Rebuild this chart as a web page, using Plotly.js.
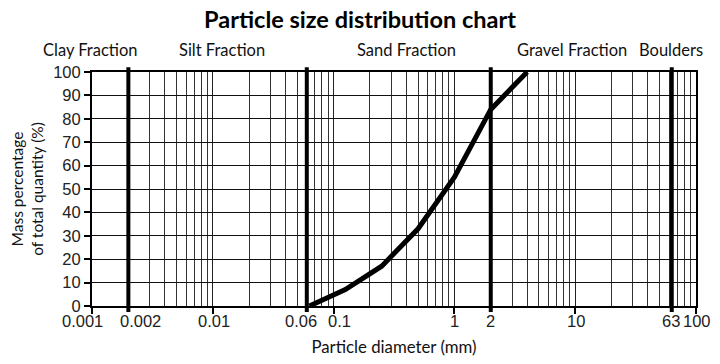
<!DOCTYPE html>
<html>
<head>
<meta charset="utf-8">
<script src="https://cdn.plot.ly/plotly-3.0.1.min.js"></script>
<style>html,body{margin:0;padding:0;background:#fff;}#chart{width:720px;height:364px;}</style>
</head>
<body>
<div id="chart"></div>
<script>
// ---- data ----
const diameterMm = [0.063, 0.125, 0.25, 0.5, 1, 2, 4];
const passingPct = [0, 7, 17, 33, 55, 84, 100];

const fractionBoundaries = [0.002, 0.06, 2, 63];
const fractionNames = ["Clay Fraction", "Silt Fraction", "Sand Fraction", "Gravel Fraction", "Boulders"];

const xTickLabelValues = [0.001, 0.002, 0.01, 0.06, 0.1, 1, 2, 10, 63, 100];
const xTickLabelText = ["0.001", "0.002", "0.01", "0.06", "0.1", "1", "2", "10", "63", "100"];

const xMajorTicks = [0.001, 0.01, 0.1, 1, 10, 100];
const xMinorGrid = [0.002,0.003,0.004,0.005,0.006,0.007,0.008,0.009,
                    0.02,0.03,0.04,0.05,0.06,0.07,0.08,0.09,
                    0.2,0.3,0.4,0.5,0.6,0.7,0.8,0.9,
                    2,3,4,5,6,7,8,9,
                    20,30,40,50,60,70,80,90];
const yTicks = [0, 10, 20, 30, 40, 50, 60, 70, 80, 90, 100];

// ---- styling / layout helpers ----
const labelShift = [-10, 12, 1, -6, 6, 0, 0, 1, -1, 1];
const fractionLabelX = [90, 222, 406, 572, 671]; // px positions
const plotL = 92, plotR = 696;
const textFont = "Lato, 'Open Sans', sans-serif";
const numFont = "'Liberation Sans', Arial, sans-serif";

const traces = [{
  x: diameterMm,
  y: passingPct,
  type: 'scatter',
  mode: 'lines',
  line: {color: '#000', width: 5},
  hoverinfo: 'x+y',
  showlegend: false
}];

const shapes = fractionBoundaries.map(v => ({
  type: 'line', xref: 'x', yref: 'paper',
  x0: v, x1: v, y0: -0.026, y1: 1.02,
  line: {color: '#000', width: 4}
}));

const annotations = [];
xTickLabelValues.forEach((v, i) => {
  annotations.push({
    xref: 'x', yref: 'paper', x: Math.log10(v), y: 0, yshift: -15,
    xshift: labelShift[i], text: xTickLabelText[i], showarrow: false,
    xanchor: 'center', yanchor: 'middle',
    font: {family: numFont, size: 16.5, color: '#222'}
  });
});
fractionNames.forEach((n, i) => {
  annotations.push({
    xref: 'paper', yref: 'paper',
    x: (fractionLabelX[i] - plotL) / (plotR - plotL), y: 1, yshift: 22,
    text: n, showarrow: false, xanchor: 'center', yanchor: 'middle',
    font: {family: textFont, size: 16.5, color: '#111'}
  });
});

const layout = {
  width: 720, height: 364,
  margin: {l: plotL, r: 720 - plotR, t: 72, b: 58},
  paper_bgcolor: '#fff', plot_bgcolor: '#fff',
  title: {text: '<b>Particle size distribution chart</b>', x: 0.5, xanchor: 'center', y: 0.945, yanchor: 'middle',
          font: {family: textFont, size: 23.5, color: '#000'}},
  xaxis: {
    type: 'log', range: [-3, 2],
    tickmode: 'array', tickvals: xMajorTicks, showticklabels: false,
    ticks: 'outside', ticklen: 6, tickwidth: 2, tickcolor: '#000',
    showgrid: true, gridcolor: '#222', gridwidth: 1,
    minor: {tickmode: 'array', tickvals: xMinorGrid, showgrid: true, gridcolor: '#333', gridwidth: 1, ticks: ''},
    showline: true, linecolor: '#000', linewidth: 2, mirror: true,
    zeroline: false, fixedrange: true,
    title: {text: 'Particle diameter (mm)', standoff: 28, font: {family: textFont, size: 16.8, color: '#111'}}
  },
  yaxis: {
    range: [0, 100], tickmode: 'array', tickvals: yTicks,
    ticks: 'outside', ticklen: 6, tickwidth: 2, tickcolor: '#000',
    showgrid: true, gridcolor: '#111', gridwidth: 1,
    showline: true, linecolor: '#000', linewidth: 2, mirror: true,
    zeroline: false, fixedrange: true,
    tickfont: {family: numFont, size: 16.5, color: '#222'},
    title: {text: 'Mass percentage<br>of total quantity (%)', standoff: 6, font: {family: textFont, size: 15.5, color: '#111'}}
  },
  shapes: shapes,
  annotations: annotations
};

Plotly.newPlot('chart', traces, layout, {displayModeBar: false, staticPlot: true});
</script>
</body>
</html>
